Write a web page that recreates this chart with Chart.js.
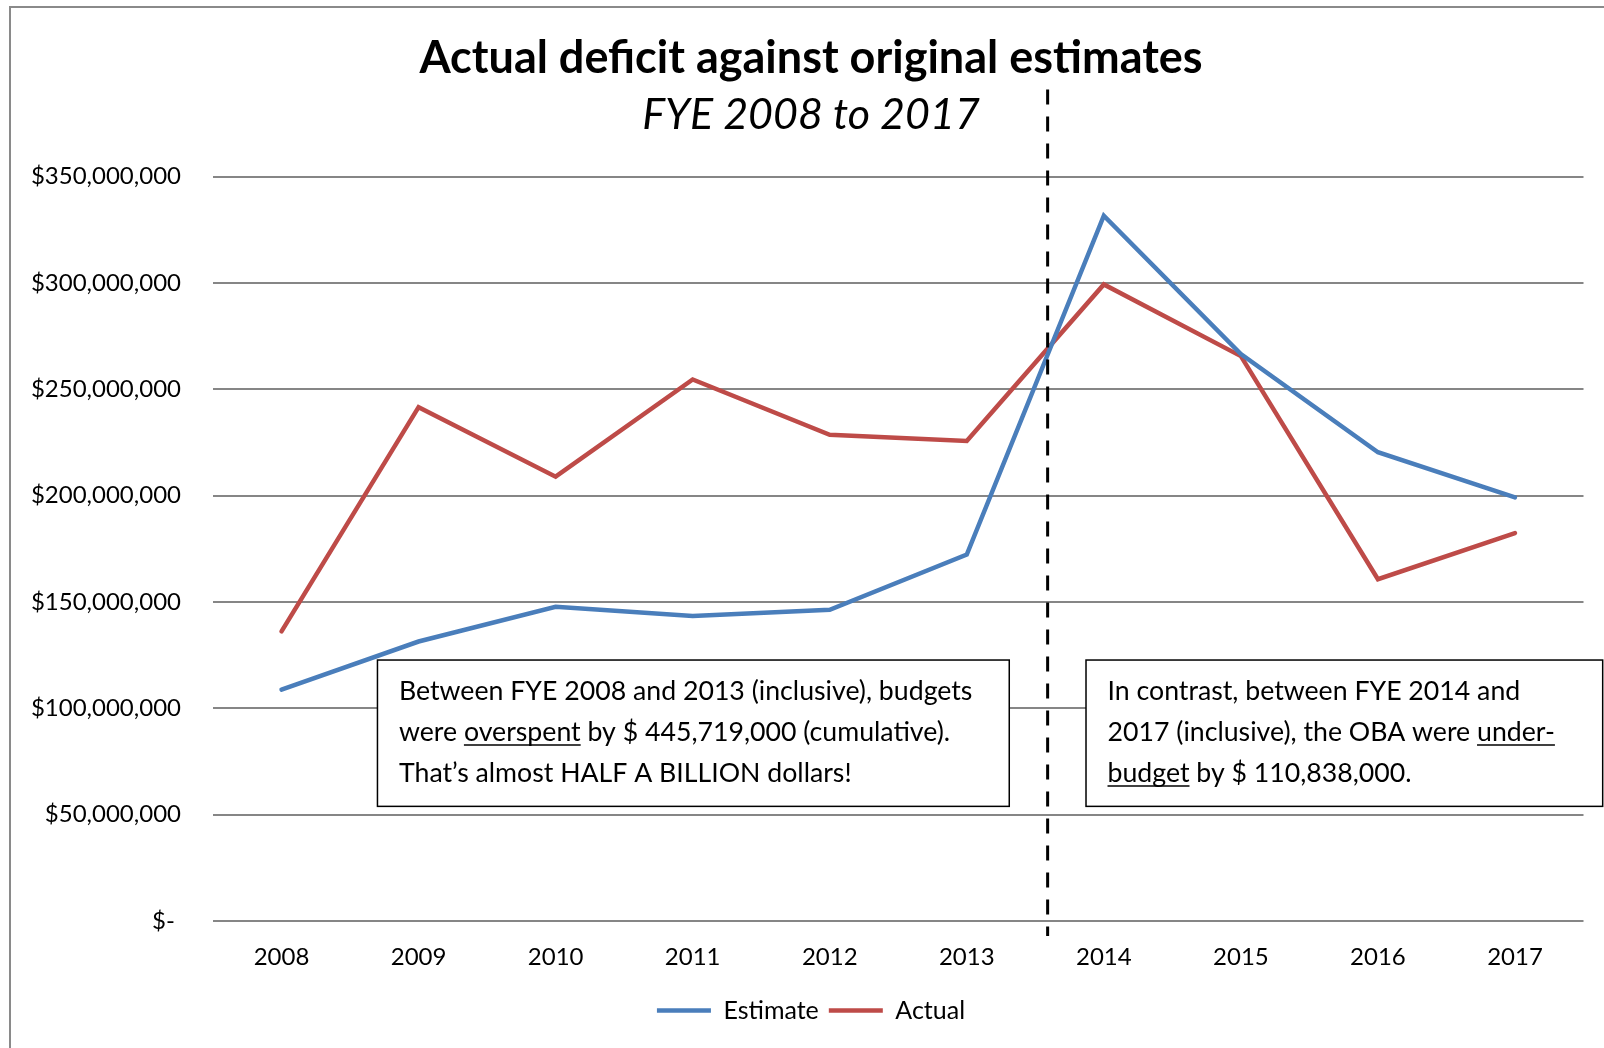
<!DOCTYPE html>
<html>
<head>
<meta charset="utf-8">
<title>Actual deficit against original estimates</title>
<script src="https://cdn.jsdelivr.net/npm/chart.js@4.4.1/dist/chart.umd.min.js"></script>
<style>
    html, body { margin: 0; padding: 0; background: #fff; overflow: hidden; }
    #wrap { position: relative; width: 1604px; height: 1048px; }
    #frame {
        position: absolute; left: 9px; top: 6px; width: 1700px; height: 1200px;
        border-left: 2px solid #8a8a8a; border-top: 2px solid #8a8a8a;
        pointer-events: none;
    }
    canvas { position: absolute; left: 0; top: 0; }
</style>
</head>
<body>
<div id="wrap">
    <div id="frame"></div>
    <canvas id="deficitChart" width="1604" height="1048"></canvas>
</div>
<script>
// ==========================================
// Deficit chart — estimate vs actual, FYE 2008-2017
// ==========================================

const years = ['2008', '2009', '2010', '2011', '2012', '2013', '2014', '2015', '2016', '2017'];
const estimate = [108.8, 131.4, 147.7, 143.4, 146.3, 172.3, 331.6, 266.6, 220.4, 199.2].map(v => v * 1e6);
const actual = [136.2, 241.6, 208.9, 254.6, 228.6, 225.7, 299.3, 265.6, 160.7, 182.4].map(v => v * 1e6);
const yTicks = [0, 50e6, 100e6, 150e6, 200e6, 250e6, 300e6, 350e6];

const FONT = "'Lato', 'Noto Sans', sans-serif";

// note boxes: [x from, x to] in category index, [y top, y bottom] in dollars
const notes = [
    {
        x: [0.70, 5.31], y: [122.7e6, 53.9e6],
        lines: [
            [{ t: 'Between FYE 2008 and 2013 (inclusive), budgets' }],
            [{ t: 'were ' }, { t: 'overspent', u: true }, { t: ' by $ 445,719,000 (cumulative).' }],
            [{ t: 'That\u2019s almost HALF A BILLION dollars!' }]
        ]
    },
    {
        x: [5.87, 9.64], y: [122.7e6, 53.9e6],
        lines: [
            [{ t: 'In contrast, between FYE 2014 and' }],
            [{ t: '2017 (inclusive), the OBA were ' }, { t: 'under-', u: true }],
            [{ t: 'budget', u: true }, { t: ' by $ 110,838,000.' }]
        ]
    }
];

document.addEventListener('DOMContentLoaded', () => {
    initDeficitChart();
});

/**
 * Dashed divider between 2013 and 2014 plus the two note boxes
 */
const notesPlugin = {
    id: 'notes',
    afterDatasetsDraw(chart) {
        const { ctx, scales: { x, y } } = chart;
        ctx.save();

        // divider
        const dx = x.getPixelForValue(5.59);
        ctx.strokeStyle = '#000';
        ctx.lineWidth = 3;
        ctx.setLineDash([15, 12]);
        ctx.beginPath();
        ctx.moveTo(dx, y.getPixelForValue(391e6));
        ctx.lineTo(dx, y.getPixelForValue(-7e6));
        ctx.stroke();
        ctx.setLineDash([]);

        // boxes
        ctx.font = `26.7px ${FONT}`;
        ctx.textBaseline = 'middle';
        notes.forEach(n => {
            const left = x.getPixelForValue(n.x[0]);
            const right = x.getPixelForValue(n.x[1]);
            const top = y.getPixelForValue(n.y[0]);
            const bottom = y.getPixelForValue(n.y[1]);
            ctx.fillStyle = '#fff';
            ctx.fillRect(left, top, right - left, bottom - top);
            ctx.strokeStyle = '#000';
            ctx.lineWidth = 1.5;
            ctx.strokeRect(left, top, right - left, bottom - top);

            n.lines.forEach((line, i) => {
                let tx = left + 21.5;
                const ty = top + 31 + i * 41;
                line.forEach(seg => {
                    ctx.fillStyle = '#000';
                    ctx.fillText(seg.t, tx, ty);
                    const w = ctx.measureText(seg.t).width;
                    if (seg.u) {
                        ctx.lineWidth = 1.5;
                        ctx.beginPath();
                        ctx.moveTo(tx, ty + 13);
                        ctx.lineTo(tx + w, ty + 13);
                        ctx.stroke();
                    }
                    tx += w;
                });
            });
        });
        ctx.restore();
    }
};

function initDeficitChart() {
    const ctx = document.getElementById('deficitChart');
    if (!ctx) return;

    Chart.defaults.font.family = FONT;
    Chart.defaults.color = '#000';

    new Chart(ctx, {
        type: 'line',
        data: {
            labels: years,
            datasets: [
                {
                    label: 'Estimate',
                    data: estimate,
                    borderColor: '#4A7EBB',
                    backgroundColor: '#4A7EBB',
                    borderWidth: 4.5,
                    borderCapStyle: 'round',
                    pointRadius: 0,
                    tension: 0,
                },
                {
                    label: 'Actual',
                    data: actual,
                    borderColor: '#BE4B48',
                    backgroundColor: '#BE4B48',
                    borderWidth: 4.5,
                    borderCapStyle: 'round',
                    pointRadius: 0,
                    tension: 0,
                }
            ]
        },
        options: {
            responsive: false,
            animation: false,
            layout: { padding: { left: 38.5, right: 20.5, top: 20, bottom: 15 } },
            plugins: {
                title: {
                    display: true,
                    text: 'Actual deficit against original estimates',
                    font: { size: 45, weight: 'bold' },
                    padding: { top: 11, bottom: 0 }
                },
                subtitle: {
                    display: true,
                    text: 'FYE 2008 to 2017',
                    color: '#000',
                    font: { size: 43, style: 'italic' },
                    padding: { top: 4.5, bottom: 35.5 }
                },
                legend: {
                    position: 'bottom',
                    labels: {
                        usePointStyle: true,
                        pointStyle: 'line',
                        pointStyleWidth: 54,
                        padding: 10,
                        font: { size: 25 }
                    }
                },
                tooltip: { enabled: false }
            },
            scales: {
                x: {
                    offset: true,
                    grid: { display: false, offset: true },
                    border: { display: false },
                    ticks: { font: { size: 24 }, padding: 14, maxRotation: 0 },
                    afterFit: (scale) => { scale.height = 67; }
                },
                y: {
                    min: 0,
                    max: 350e6,
                    grid: { color: '#868686', lineWidth: 2, drawTicks: false },
                    border: { display: false },
                    afterBuildTicks: (scale) => { scale.ticks = yTicks.map(v => ({ value: v })); },
                    afterFit: (scale) => {
                        scale.width = 174.5;
                        // let the long dollar labels run past the padded edge
                        scale._computeLabelArea = () => undefined;
                    },
                    ticks: {
                        font: { size: 24 },
                        padding: 32,
                        callback: (v) => v === 0 ? '$- ' : '$' + v.toLocaleString('en-US')
                    }
                }
            }
        },
        plugins: [notesPlugin]
    });
}
</script>
</body>
</html>
